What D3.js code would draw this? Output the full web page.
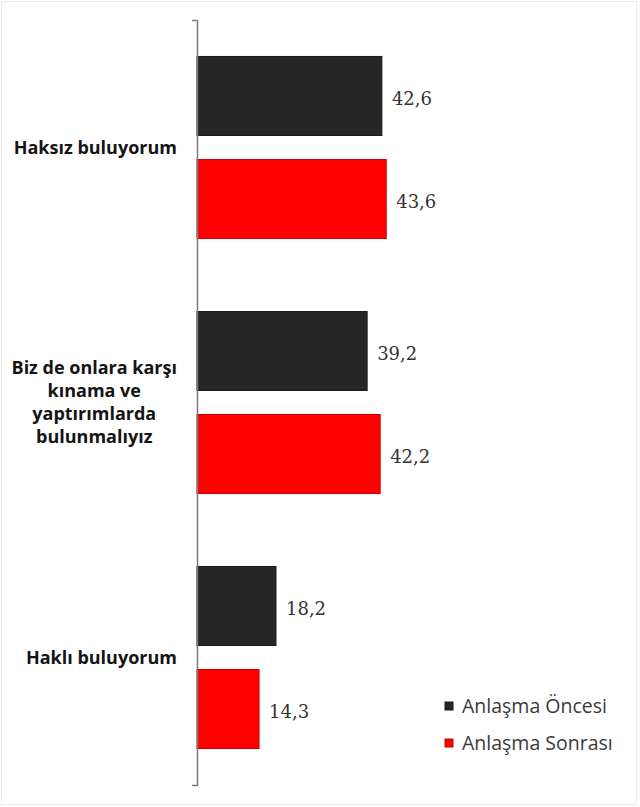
<!DOCTYPE html>
<html>
<head>
<meta charset="utf-8">
<script src="https://cdn.jsdelivr.net/npm/d3@7"></script>
<style>
  body { margin: 0; background: #fff; }
  svg { display: block; }
</style>
</head>
<body>
<div id="chart"></div>
<script>
// categories (top to bottom) and the two series
const categories = [
  ["Haksız buluyorum"],
  ["Biz de onlara karşı", "kınama ve", "yaptırımlarda", "bulunmalıyız"],
  ["Haklı buluyorum"]
];
const seriesNames = ["Anlaşma Öncesi", "Anlaşma Sonrası"];
const oncesi = [42.6, 39.2, 18.2];
const sonrasi = [43.6, 42.2, 14.3];
const seriesColors = ["#262626", "#ff0000"];
const seriesStrokes = ["#1a1a1a", "#c80000"];

let width = 640, height = 807;

let svg = d3.select("#chart").append("svg")
  .attr("width", width)
  .attr("height", height);

// faint frame of the original picture
svg.append("rect")
  .attr("x", 1.5).attr("y", 1.5)
  .attr("width", 635).attr("height", 803)
  .attr("fill", "none")
  .attr("stroke", "#ececec");

let keys = categories.map(function(d, i) { return "c" + i; });

let y = d3.scaleBand().domain(keys).range([20, 785]).padding(0);
let inner = d3.scaleBand().domain(seriesNames).range([0, y.bandwidth()])
  .paddingInner(0.233).paddingOuter(0.354);
let x = d3.scaleLinear().domain([0, 100]).range([197, 631]);

let rows = categories.map(function(c, i) {
  return { key: keys[i], lines: c, values: [oncesi[i], sonrasi[i]] };
});

// bars
let group = svg.selectAll(".grp")
  .data(rows)
  .enter().append("g")
  .attr("class", "grp")
  .attr("transform", function(d) { return "translate(0," + y(d.key) + ")"; });

let bar = group.selectAll(".bar")
  .data(function(d) { return d.values.map(function(v, j) { return { s: seriesNames[j], v: v, j: j }; }); })
  .enter();

bar.append("rect")
  .attr("class", "bar")
  .attr("x", x(0))
  .attr("y", function(d) { return inner(d.s); })
  .attr("width", function(d) { return x(d.v) - x(0); })
  .attr("height", inner.bandwidth())
  .attr("fill", function(d) { return seriesColors[d.j]; })
  .attr("stroke", function(d) { return seriesStrokes[d.j]; })
  .attr("stroke-width", 1);

// value labels sit a little low, like the old-style figures of the original
bar.append("text")
  .attr("x", function(d) { return x(d.v) + 10; })
  .attr("y", function(d) { return inner(d.s) + inner.bandwidth() / 2 + 3; })
  .attr("dy", "0.35em")
  .style("font-family", "'DejaVu Serif', serif")
  .style("font-size", "18px")
  .style("fill", "#333")
  .text(function(d) { return d3.format(".1f")(d.v).replace(".", ","); });

// axis (only the line with end ticks)
svg.append("g")
  .attr("transform", "translate(" + x(0) + ",0)")
  .call(d3.axisLeft(y).tickSize(0).tickSizeOuter(5).tickFormat(""))
  .call(function(g) { g.select(".domain").attr("stroke", "#7a7a7a").attr("stroke-width", 1.5); });

// category labels: block right aligned near axis, lines centred in block
let lineH = 23;
rows.forEach(function(r) {
  let cy = y(r.key) + y.bandwidth() / 2;
  let t = svg.append("g");
  let texts = r.lines.map(function(l, k) {
    return t.append("text")
      .attr("y", cy + (k - (r.lines.length - 1) / 2) * lineH)
      .attr("dy", "0.35em")
      .attr("text-anchor", "middle")
      .style("font-family", "'Open Sans', sans-serif")
      .style("font-weight", "bold")
      .style("font-size", "18px")
      .style("fill", "#141414")
      .text(l);
  });
  let maxW = d3.max(texts, function(tx) { return tx.node().getComputedTextLength(); });
  texts.forEach(function(tx) { tx.attr("x", 177 - maxW / 2); });
});

// legend
let legend = svg.selectAll(".legend")
  .data(seriesNames)
  .enter().append("g")
  .attr("class", "legend")
  .attr("transform", function(d, i) { return "translate(445," + (706 + i * 37) + ")"; });

legend.append("rect")
  .attr("x", 0).attr("y", -4)
  .attr("width", 8).attr("height", 8)
  .attr("fill", function(d, i) { return seriesColors[i]; })
  .attr("stroke", function(d, i) { return seriesStrokes[i]; });

legend.append("text")
  .attr("x", 17)
  .attr("dy", "0.35em")
  .style("font-family", "'Open Sans', sans-serif")
  .style("font-size", "19.5px")
  .style("fill", "#3a3a3a")
  .text(function(d) { return d; });
</script>
</body>
</html>
